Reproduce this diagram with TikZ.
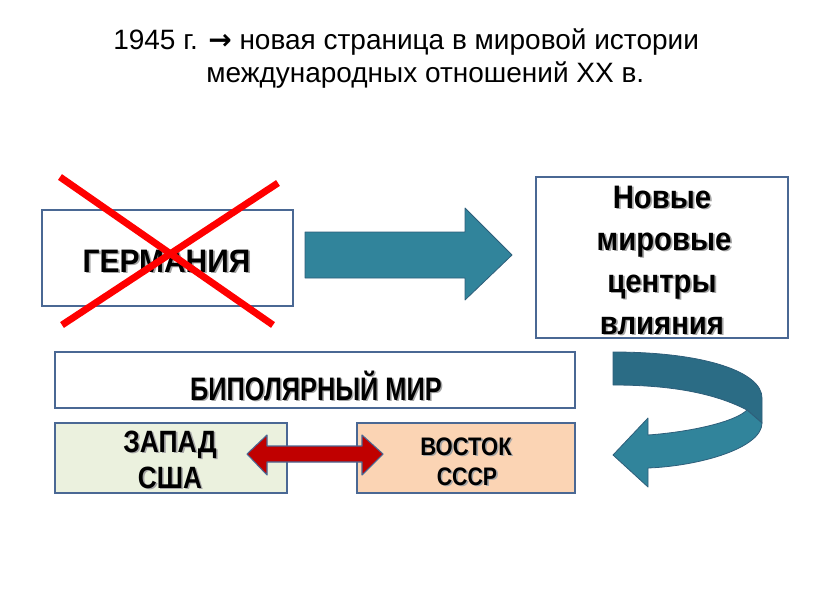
\documentclass[tikz,border=0pt]{standalone}
\usepackage{graphicx}
\usepackage{fontspec}
\setmainfont{Liberation Sans}
\newfontfamily\symf{DejaVu Sans}
\usetikzlibrary{fit}
\definecolor{bordc}{HTML}{4A6894}
\definecolor{tealA}{HTML}{31849B}
\definecolor{tealD}{HTML}{2B6C85}
\definecolor{tealO}{HTML}{2E5E7A}
\definecolor{zapc}{HTML}{EBF1DE}
\definecolor{vosc}{HTML}{FBD4B4}
\definecolor{redA}{HTML}{C00000}
\newcommand\shd[1]{\makebox[0pt][l]{\kern1.4pt\raisebox{-1.4pt}{\textcolor{black!35}{#1}}}#1}
\newcommand\stx[2]{\scalebox{#1}[1]{\shd{#2}}}
\tikzset{
  box/.style={draw=bordc, line width=1.1pt, inner sep=0pt},
  ttl/.style={inner sep=0pt, anchor=base west, font=\fontsize{21}{24}\selectfont},
  btx/.style={inner sep=0pt, anchor=base, font=\bfseries},
  blk/.style={fill=tealA, draw=tealO, line width=0.6pt, line join=round},
}
\begin{document}
\begin{tikzpicture}[x=0.75pt,y=-0.75pt]
\useasboundingbox (0,0) rectangle (816,613);
% title
\node[ttl] (t1) at (113,50) {1945 г. {\symf\bfseries →} новая страница в мировой истории};
\node[ttl] (t2) at (206,83) {международных отношений ХХ в.};
% boxes
\node[box, fit={(42,210) (293,306)}] (germ) {};
\node[box, fit={(536,177) (788,338)}] (novye) {};
\node[box, fit={(55,352) (575,408)}] (bipol) {};
\node[box, fill=zapc, fit={(55,423) (287,493)}] (zapad) {};
\node[box, fill=vosc, fit={(357,423) (575,493)}] (vostok) {};
% texts
\node[btx, font=\bfseries\fontsize{24.4}{30}\selectfont] (germt) at (166.5,272) {\stx{0.92}{ГЕРМАНИЯ}};
\node[btx, font=\bfseries\fontsize{24.4}{30}\selectfont] (nv1) at (662,208) {\stx{0.9}{Новые}};
\node[btx, font=\bfseries\fontsize{24.4}{30}\selectfont] (nv2) at (664,250) {\stx{0.9}{мировые}};
\node[btx, font=\bfseries\fontsize{24.4}{30}\selectfont] (nv3) at (662,292) {\stx{0.9}{центры}};
\node[btx, font=\bfseries\fontsize{24.4}{30}\selectfont] (nv4) at (662,334) {\stx{0.9}{влияния}};
\node[btx, font=\bfseries\fontsize{24.4}{30}\selectfont] (bpt) at (316,400) {\stx{0.78}{БИПОЛЯРНЫЙ МИР}};
\node[btx, font=\bfseries\fontsize{23.1}{30}\selectfont] (zp1) at (170,452) {\stx{0.86}{ЗАПАД}};
\node[btx, font=\bfseries\fontsize{23.1}{30}\selectfont] (zp2) at (170,488) {\stx{0.85}{США}};
\node[btx, font=\bfseries\fontsize{19}{24}\selectfont] (vs1) at (466,455) {\stx{0.87}{ВОСТОК}};
\node[btx, font=\bfseries\fontsize{19}{24}\selectfont] (vs2) at (467,485) {\stx{0.84}{СССР}};
% red cross
\draw[red, line width=5.2pt] (60,177) -- (273,325);
\draw[red, line width=5.2pt] (278,183) -- (62,325);
% blue arrow
\draw[blk] (305,232) -- (465,232) -- (465,208) -- (512,255) -- (465,300) -- (465,278) -- (305,278) -- cycle;
% curved arrow
\draw[blk, fill=tealD] (613,352) .. controls (705,352) and (762,372) .. (762,398) -- (762,423) -- (747,410) .. controls (720,396) and (680,385) .. (613,385) -- cycle;
\draw[blk] (747,410) -- (762,423) .. controls (762,448) and (700,466) .. (648,468) -- (648,487) -- (613,455) -- (648,418) -- (648,435) .. controls (690,432) and (735,422) .. (747,410) -- cycle;
% red double arrow
\draw[fill=redA, draw=bordc, line width=0.8pt, line join=round] (247,454) -- (267,435) -- (267,446) -- (362,446) -- (362,435) -- (383,454) -- (362,475) -- (362,462) -- (267,462) -- (267,475) -- cycle;
\end{tikzpicture}
\end{document}
